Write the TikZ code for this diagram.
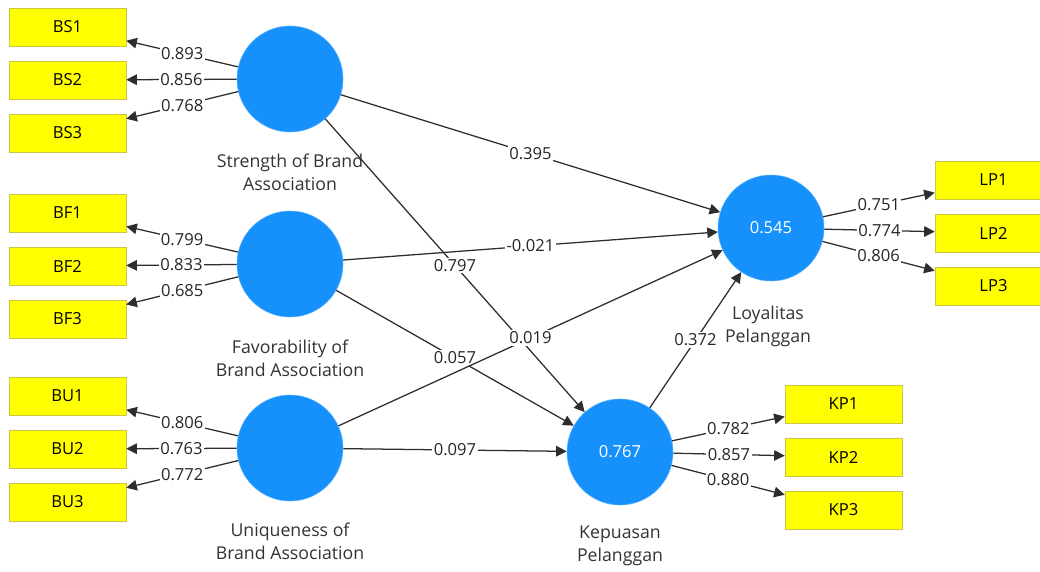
\documentclass[tikz,border=0pt]{standalone}
\usepackage{fontspec}
\setmainfont{Open Sans}
\usetikzlibrary{arrows.meta, positioning}

\definecolor{lvblue}{RGB}{22,145,252}
\definecolor{mvyellow}{RGB}{255,255,0}
\definecolor{mvedge}{RGB}{200,200,70}
\definecolor{pathgray}{RGB}{45,45,45}

\begin{document}
\begin{tikzpicture}[
    x=0.025cm, y=-0.025cm,
    node distance=1.325cm,
    font=\fontsize{11.8}{16.4}\selectfont,
    latent/.style={circle, fill=lvblue, draw=lvblue!70!white, minimum size=2.65cm, inner sep=0pt, text=white},
    indicator/.style={rectangle, fill=mvyellow, draw=mvedge, minimum width=2.925cm, minimum height=0.95cm, inner sep=0pt},
    lvname/.style={align=center, text=black!80, font=\fontsize{12.6}{16.4}\selectfont},
    arrow/.style={-{Triangle[length=7.5pt, width=7.5pt]}, pathgray, line width=0.9pt},
    coef/.style={fill=white, inner sep=1pt, text=black!85}
]
\useasboundingbox (0,0) rectangle (1040,572);

% latent variables
\node[latent] (sba) at (290,79) {};
\node[latent] (fba) at (290,264) {};
\node[latent] (uba) at (290,448) {};
\node[latent] (lp) at (771,228) {0.545};
\node[latent] (kp) at (620,452) {0.767};

\node[lvname] (sbaname) at (290,172) {Strength of Brand\\Association};
\node[lvname] (fbaname) at (290,358) {Favorability of\\Brand Association};
\node[lvname] (ubaname) at (290,541) {Uniqueness of\\Brand Association};
\node[lvname] (lpname) at (768,326) {Loyalitas\\Pelanggan};
\node[lvname] (kpname) at (620,546) {Kepuasan\\Pelanggan};

% indicators
\node[indicator] (bs2) at (67.5,80) {BS2};
\node[indicator, above of=bs2] (bs1) {BS1};
\node[indicator, below of=bs2] (bs3) {BS3};

\node[indicator] (bf2) at (67.5,266) {BF2};
\node[indicator, above of=bf2] (bf1) {BF1};
\node[indicator, below of=bf2] (bf3) {BF3};

\node[indicator] (bu2) at (67.5,449) {BU2};
\node[indicator, above of=bu2] (bu1) {BU1};
\node[indicator, below of=bu2] (bu3) {BU3};

\node[indicator] (lp2) at (993.5,233) {LP2};
\node[indicator, above of=lp2] (lp1) {LP1};
\node[indicator, below of=lp2] (lp3) {LP3};

\node[indicator] (kp2) at (843.5,457) {KP2};
\node[indicator, above of=kp2] (kp1) {KP1};
\node[indicator, below of=kp2] (kp3) {KP3};

% outer loadings
\draw[arrow] (sba) -- node[coef] {0.893} (bs1);
\draw[arrow] (sba) -- node[coef] {0.856} (bs2);
\draw[arrow] (sba) -- node[coef] {0.768} (bs3);
\draw[arrow] (fba) -- node[coef] {0.799} (bf1);
\draw[arrow] (fba) -- node[coef] {0.833} (bf2);
\draw[arrow] (fba) -- node[coef] {0.685} (bf3);
\draw[arrow] (uba) -- node[coef] {0.806} (bu1);
\draw[arrow] (uba) -- node[coef] {0.763} (bu2);
\draw[arrow] (uba) -- node[coef] {0.772} (bu3);
\draw[arrow] (lp) -- node[coef] {0.751} (lp1);
\draw[arrow] (lp) -- node[coef] {0.774} (lp2);
\draw[arrow] (lp) -- node[coef] {0.806} (lp3);
\draw[arrow] (kp) -- node[coef] {0.782} (kp1);
\draw[arrow] (kp) -- node[coef] {0.857} (kp2);
\draw[arrow] (kp) -- node[coef] {0.880} (kp3);

% inner model
\draw[arrow] (sba) -- node[coef] {0.395} (lp);
\draw[arrow] (sba) -- node[coef] {0.797} (kp);
\draw[arrow] (fba) -- node[coef] {-0.021} (lp);
\draw[arrow] (fba) -- node[coef] {0.057} (kp);
\draw[arrow] (uba) -- node[coef] {0.019} (lp);
\draw[arrow] (uba) -- node[coef] {0.097} (kp);
\draw[arrow] (kp) -- node[coef] {0.372} (lp);

\end{tikzpicture}
\end{document}
